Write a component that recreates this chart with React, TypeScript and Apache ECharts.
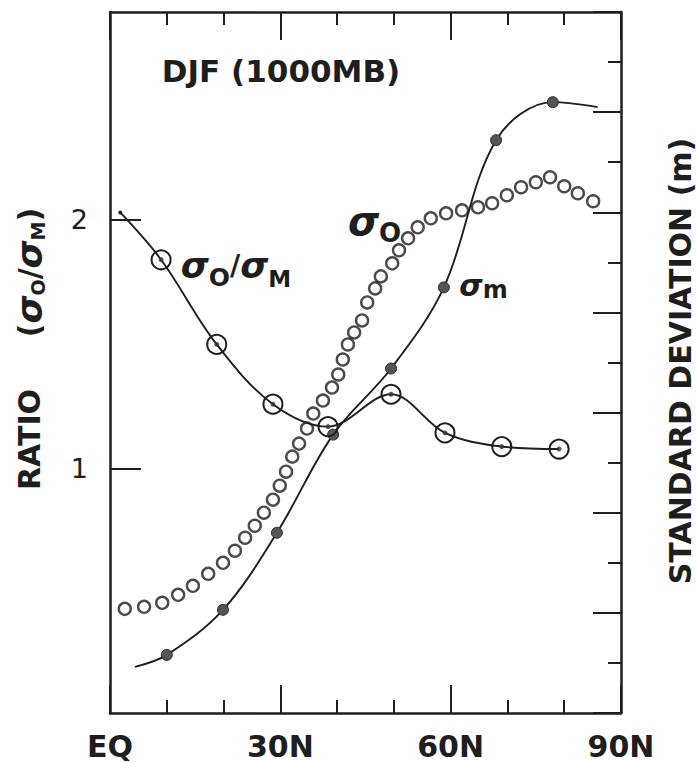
import React, { useEffect, useRef } from 'react';
import * as echarts from 'echarts';

// x axis: latitude (degrees north)
const xTickLabels = ['EQ', '30N', '60N', '90N'];
const ratioTickValues = [1, 2];

// sigma_O / sigma_M ratio (left axis)
const ratioLat = [1.8, 9.0, 18.8, 28.7, 38.4, 49.5, 59.0, 69.0, 79.1];
const ratioVal = [2.03, 1.84, 1.5, 1.26, 1.17, 1.3, 1.145, 1.09, 1.08];

// sigma_m, model standard deviation (right axis, m)
const sigmaMLat = [4.4, 10.0, 19.9, 29.4, 39.3, 49.5, 58.8, 68.0, 78.0, 85.9];
const sigmaMVal = [4.6, 5.8, 10.3, 18.0, 27.8, 34.4, 42.5, 57.2, 61.0, 60.5];

// sigma_O, observed standard deviation (right axis, m)
const sigmaOLat = [
  2.6, 6.0, 9.2, 12.0, 14.6, 17.3, 19.9, 22.0, 23.8, 25.5, 27.1, 28.7, 29.9, 31.0, 32.1,
  33.3, 34.7, 35.8, 37.5, 39.1, 40.2, 41.0, 41.9, 43.0, 44.4, 45.3, 46.7, 47.7, 49.7, 50.9,
  52.5, 54.2, 56.5, 59.2, 62.0, 64.8, 67.3, 69.9, 72.4, 75.0, 77.5, 80.0, 82.4, 85.1,
];
const sigmaOVal = [
  10.4, 10.6, 11.0, 11.8, 12.7, 13.9, 15.0, 16.2, 17.5, 18.7, 20.0, 21.3, 22.7, 24.1, 25.6,
  26.9, 28.4, 29.9, 31.2, 32.5, 33.8, 35.3, 36.8, 38.0, 39.2, 41.0, 42.4, 43.6, 44.9, 46.2,
  47.4, 48.5, 49.4, 49.9, 50.2, 50.5, 50.9, 51.7, 52.5, 53.0, 53.5, 52.6, 51.9, 51.1,
];

export default function App() {
  const ref = useRef<HTMLDivElement>(null);

  useEffect(() => {
    const chart = echarts.init(ref.current!, null, { renderer: 'svg' });
    const ink = '#1e1e1e';
    const font = 'DejaVu Sans';

    const axisLine = { show: true, onZero: false, lineStyle: { color: ink, width: 2.5 } };
    const tickStyle = { color: ink, width: 2 };

    const ratioData = ratioLat.map((lat, i) =>
      i === 0
        ? { value: [lat, ratioVal[i]], symbolSize: 4, itemStyle: { color: ink, borderWidth: 0 } }
        : [lat, ratioVal[i]]
    );
    const ratioDots = ratioLat.slice(1).map((lat, i) => [lat, ratioVal[i + 1]]);
    const sigmaMData = sigmaMLat.map((lat, i) =>
      i === 0 || i === sigmaMLat.length - 1
        ? { value: [lat, sigmaMVal[i]], symbol: 'none' }
        : [lat, sigmaMVal[i]]
    );
    const sigmaOData = sigmaOLat.map((lat, i) => [lat, sigmaOVal[i]]);

    const xAxisBase = {
      type: 'value',
      min: 0,
      max: 90,
      interval: 30,
      axisLine,
      axisTick: { show: true, inside: true, length: 28, lineStyle: tickStyle },
      minorTick: { show: true, splitNumber: 3, length: 13, lineStyle: tickStyle },
      splitLine: { show: false },
      minorSplitLine: { show: false },
    };

    const base = { fontFamily: font, fontWeight: 'bold', fill: ink };

    const txt = (text: string, x: number, y: number, fontSize: number, rotation = 0) => ({
      type: 'text',
      x,
      y,
      rotation,
      z: 10,
      style: {
        ...base,
        text,
        fontSize,
        align: 'center',
        verticalAlign: 'middle',
        textAlign: 'center',
        textVerticalAlign: 'middle',
      },
    });

    const rich = (text: string, x: number, y: number, richStyles: any, rotation = 0) => ({
      type: 'text',
      x,
      y,
      rotation,
      z: 10,
      style: {
        text,
        fill: ink,
        align: 'center',
        verticalAlign: 'middle',
        textAlign: 'center',
        textVerticalAlign: 'middle',
        rich: richStyles,
      },
    });

    chart.setOption({
      animation: false,
      backgroundColor: '#fff',
      grid: { left: 110, top: 12, width: 511, height: 701 },
      xAxis: [
        {
          ...xAxisBase,
          position: 'bottom',
          axisLabel: {
            formatter: (v: number) => xTickLabels[Math.round(v / 30)] ?? '',
            fontFamily: font,
            fontWeight: 'bold',
            fontSize: 30,
            color: ink,
            margin: 18,
          },
        },
        { ...xAxisBase, position: 'top', axisLabel: { show: false } },
      ],
      yAxis: [
        {
          type: 'value',
          min: 0.02,
          max: 2.835,
          position: 'left',
          axisLine,
          axisTick: {
            show: true,
            inside: true,
            length: 31,
            customValues: ratioTickValues,
            lineStyle: tickStyle,
          },
          axisLabel: {
            customValues: ratioTickValues,
            fontFamily: font,
            fontSize: 27,
            color: ink,
            margin: 22,
          },
          splitLine: { show: false },
        },
        {
          type: 'value',
          min: 0,
          max: 70,
          interval: 10,
          position: 'right',
          axisLine,
          axisTick: { show: true, inside: true, length: 28, lineStyle: tickStyle },
          minorTick: { show: true, splitNumber: 2, length: 13, lineStyle: tickStyle },
          axisLabel: { show: false },
          splitLine: { show: false },
          minorSplitLine: { show: false },
        },
      ],
      series: [
        {
          name: 'σm',
          type: 'line',
          yAxisIndex: 1,
          data: sigmaMData,
          smooth: 0.35,
          symbol: 'circle',
          symbolSize: 11,
          lineStyle: { color: ink, width: 1.9 },
          itemStyle: { color: '#555', borderColor: '#2a2a2a', borderWidth: 1 },
          z: 2,
        },
        {
          name: 'σO/σM',
          type: 'line',
          yAxisIndex: 0,
          data: ratioData,
          smooth: 0.35,
          symbol: 'circle',
          symbolSize: 19,
          lineStyle: { color: ink, width: 1.9 },
          itemStyle: { color: 'rgba(255,255,255,0)', borderColor: ink, borderWidth: 2 },
          z: 3,
        },
        {
          name: 'ratio points',
          type: 'scatter',
          yAxisIndex: 0,
          data: ratioDots,
          symbol: 'circle',
          symbolSize: 5,
          itemStyle: { color: '#333' },
          z: 4,
        },
        {
          name: 'σO',
          type: 'scatter',
          yAxisIndex: 1,
          data: sigmaOData,
          symbol: 'circle',
          symbolSize: 12,
          itemStyle: { color: 'rgba(255,255,255,0)', borderColor: ink, borderWidth: 2.4 },
          z: 5,
        },
      ],
      graphic: [
        txt('DJF (1000MB)', 281, 71, 31),
        // sigma_O / sigma_M annotation
        rich('{s|σ}{b|O}{p|/}{s|σ}{c|M}', 236, 265.5, {
          s: { ...base, fontSize: 36, fontStyle: 'italic', lineHeight: 49, verticalAlign: 'middle' },
          p: { ...base, fontSize: 28, lineHeight: 49, verticalAlign: 'middle' },
          b: { ...base, fontSize: 25, lineHeight: 25, verticalAlign: 'bottom' },
          c: { ...base, fontSize: 23, lineHeight: 23, verticalAlign: 'bottom' },
        }),
        // sigma_O annotation
        rich('{s|σ}{b|O}', 374.5, 221, {
          s: { ...base, fontSize: 40, fontStyle: 'italic', lineHeight: 50, verticalAlign: 'middle' },
          b: { ...base, fontSize: 26, lineHeight: 26, verticalAlign: 'bottom' },
        }),
        // sigma_m annotation
        rich('{s|σ}{b|m}', 483.5, 285, {
          s: { ...base, fontSize: 30, fontStyle: 'italic', lineHeight: 34, verticalAlign: 'middle' },
          b: { ...base, fontSize: 24, lineHeight: 24, verticalAlign: 'bottom' },
        }),
        // axis titles
        txt('RATIO', 29, 439.5, 30, Math.PI / 2),
        rich(
          '{p|(}{s|σ}{b|O}{p|/}{s|σ}{b|M}{p|)}',
          29,
          272.5,
          {
            p: { ...base, fontSize: 30, lineHeight: 36, verticalAlign: 'middle' },
            s: { ...base, fontSize: 36, fontStyle: 'italic', lineHeight: 36, verticalAlign: 'middle' },
            b: { ...base, fontSize: 19, lineHeight: 22, verticalAlign: 'bottom' },
          },
          Math.PI / 2
        ),
        txt('STANDARD DEVIATION (m)', 680, 361, 30, Math.PI / 2),
      ],
    });

    return () => chart.dispose();
  }, []);

  return (
    <div
      ref={ref}
      style={{ position: 'fixed', left: 0, top: 0, width: 696, height: 763, background: '#fff' }}
    />
  );
}
